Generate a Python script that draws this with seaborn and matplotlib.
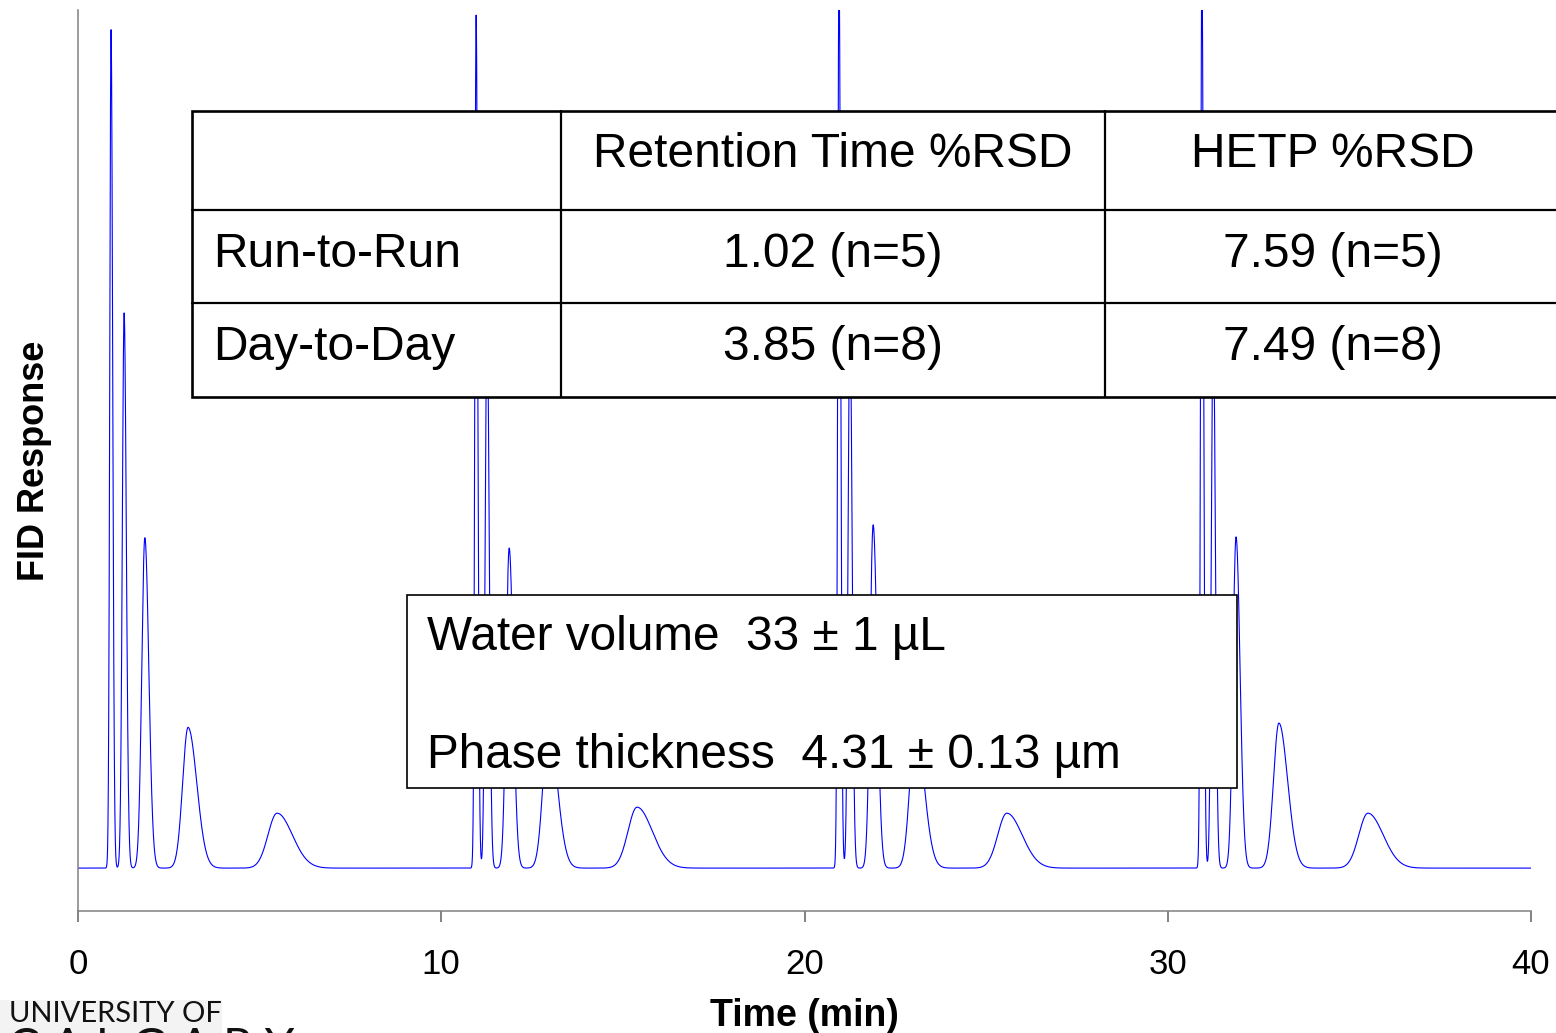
import numpy as np
import pandas as pd
import matplotlib
matplotlib.use("Agg")
import matplotlib.pyplot as plt
import seaborn as sns
from matplotlib.patches import Rectangle
from matplotlib.lines import Line2D

# ---------------- data ----------------
# retention times (min) of the five peaks for each of the four injections
rt_inj1 = [0.91, 1.27, 1.84, 3.03, 5.48]
rt_inj2 = [10.96, 11.26, 11.87, 12.95, 15.39]
rt_inj3 = [20.95, 21.25, 21.89, 23.05, 25.57]
rt_inj4 = [30.94, 31.25, 31.88, 33.06, 35.51]
# peak heights (fraction of the full y-range)
h_inj1 = [0.977, 0.647, 0.385, 0.164, 0.064]
h_inj2 = [0.994, 0.650, 0.373, 0.165, 0.071]
h_inj3 = [1.050, 0.650, 0.400, 0.165, 0.064]
h_inj4 = [1.050, 0.650, 0.386, 0.169, 0.064]
# peak widths (min): leading and tailing half-widths (sigma)
sigma_lead = [0.035, 0.05, 0.085, 0.15, 0.25]
sigma_tail = [0.045, 0.06, 0.11, 0.24, 0.42]

time_range = [0.0, 40.0]
x_ticks = [0, 10, 20, 30, 40]

table_header = ["", "Retention Time %RSD", "HETP %RSD"]
table_rows = ["Run-to-Run", "Day-to-Day"]
rt_rsd = ["1.02 (n=5)", "3.85 (n=8)"]
hetp_rsd = ["7.59 (n=5)", "7.49 (n=8)"]

box_lines = ["Water volume  33 \u00b1 1 \u00b5L", "Phase thickness  4.31 \u00b1 0.13 \u00b5m"]

# ---------------- build trace from peak table ----------------
t = np.linspace(time_range[0], time_range[1], 16001)
signal = np.zeros_like(t)
for rts, hs in [(rt_inj1, h_inj1), (rt_inj2, h_inj2), (rt_inj3, h_inj3), (rt_inj4, h_inj4)]:
    for rt, h, sl, st in zip(rts, hs, sigma_lead, sigma_tail):
        s = np.where(t < rt, sl, st)
        signal += h * np.exp(-0.5 * ((t - rt) / s) ** 2)
df = pd.DataFrame({"Time (min)": t, "FID Response": signal})

# ---------------- figure ----------------
W, H = 1556, 1033
sns.set_theme(style="white")
plt.rcParams["font.family"] = ["Liberation Sans", "DejaVu Sans"]
plt.rcParams["text.color"] = "black"
plt.rcParams["axes.labelcolor"] = "black"
plt.rcParams["xtick.color"] = "black"

fig = plt.figure(figsize=(W / 100, H / 100), dpi=100)
ax = fig.add_axes([78 / W, 1 - 911 / H, (1531 - 78) / W, (911 - 10) / H])

sns.lineplot(data=df, x="Time (min)", y="FID Response", ax=ax,
             color="#0000ff", linewidth=0.8, estimator=None, sort=False)

ax.set_xlim(*time_range)
ax.set_ylim(-0.05, 1.0)
ax.set_xticks(x_ticks)
ax.set_xticklabels([str(v) for v in x_ticks], fontsize=25)
ax.set_yticks([])
for side in ["top", "right"]:
    ax.spines[side].set_visible(False)
for side in ["left", "bottom"]:
    ax.spines[side].set_color("#808080")
    ax.spines[side].set_linewidth(1.1)
ax.tick_params(axis="x", direction="out", length=8, width=1.1, color="#606060",
               labelcolor="black", pad=19, bottom=True)
ax.set_xlabel("Time (min)", fontsize=27, fontweight="bold", labelpad=12)
ax.set_ylabel("FID Response", fontsize=26, fontweight="bold", labelpad=19)


def fx(x):
    return x / W


def fy(y):
    return 1 - y / H


# ---------------- table ----------------
col_x = [192, 561, 1105, 1561]
row_y = [111, 210, 303, 397]
row_text_shift = [-6, -2, -2]
fig.add_artist(Rectangle((fx(col_x[0]), fy(row_y[-1])), fx(col_x[-1]) - fx(col_x[0]),
                         fy(row_y[0]) - fy(row_y[-1]), transform=fig.transFigure,
                         facecolor="white", edgecolor="black", linewidth=1.9, zorder=5))
for yy in row_y[1:-1]:
    fig.add_artist(Line2D([fx(col_x[0]), fx(col_x[-1])], [fy(yy), fy(yy)],
                          transform=fig.transFigure, color="black", linewidth=1.6, zorder=6))
for xx in col_x[1:-1]:
    fig.add_artist(Line2D([fx(xx), fx(xx)], [fy(row_y[0]), fy(row_y[-1])],
                          transform=fig.transFigure, color="black", linewidth=1.6, zorder=6))

cells = [table_header] + [[r, a, b] for r, a, b in zip(table_rows, rt_rsd, hetp_rsd)]
for i, row in enumerate(cells):
    yc = (row_y[i] + row_y[i + 1]) / 2 + row_text_shift[i]
    for j, txt in enumerate(row):
        if not txt:
            continue
        if j == 0:
            fig.text(fx(col_x[0] + 21), fy(yc), txt, fontsize=34.5, ha="left",
                     va="center", zorder=7)
        else:
            xc = (col_x[j] + col_x[j + 1]) / 2
            fig.text(fx(xc), fy(yc), txt, fontsize=34.5, ha="center", va="center", zorder=7)

# ---------------- text box ----------------
bx0, by0, bx1, by1 = 407, 595, 1237, 788
fig.add_artist(Rectangle((fx(bx0), fy(by1)), fx(bx1) - fx(bx0), fy(by0) - fy(by1),
                         transform=fig.transFigure, facecolor="white", edgecolor="black",
                         linewidth=1.2, zorder=5))
for txt, yc in zip(box_lines, [638, 755]):
    fig.text(fx(427), fy(yc), txt, fontsize=34.4, ha="left", va="center", zorder=7)

# ---------------- logo text ----------------
fig.add_artist(Rectangle((0, 0), fx(222), fy(1000), transform=fig.transFigure,
                         facecolor="#f3f3f3", edgecolor="none", zorder=1))
fig.text(fx(9), fy(1014), "UNIVERSITY OF", fontsize=21, family=["Lato", "DejaVu Sans"],
         color="#111111", ha="left", va="center", zorder=2)
fig.text(fx(8), fy(1027), "C A L G A R Y", fontsize=34, family=["Lato", "DejaVu Sans"],
         color="#111111", ha="left", va="top", zorder=2)

fig.savefig("out.png", dpi=100, facecolor="white")
